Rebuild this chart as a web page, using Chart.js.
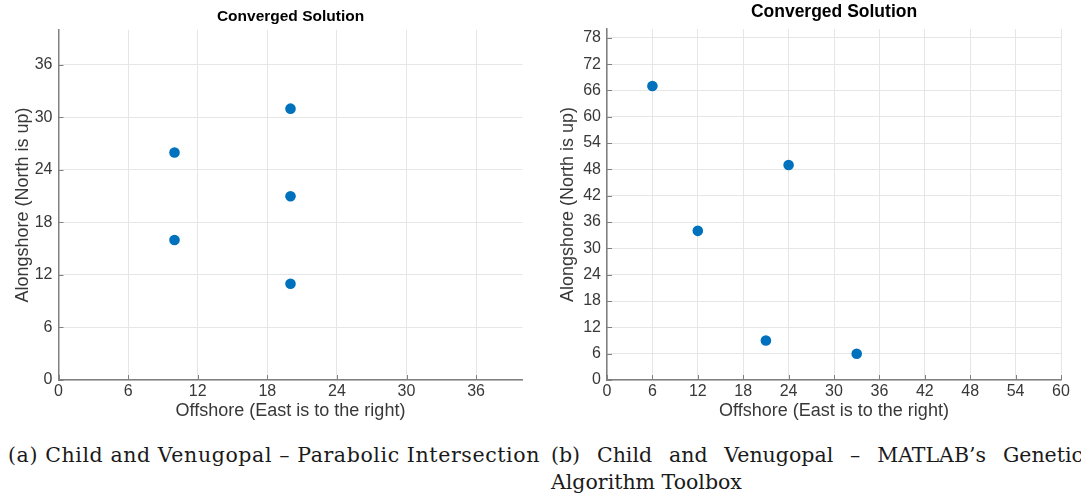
<!DOCTYPE html>
<html>
<head>
<meta charset="utf-8">
<script src="https://cdn.jsdelivr.net/npm/chart.js@4"></script>
<style>
  html, body { margin: 0; padding: 0; background: #fff; }
  #page { position: relative; width: 1081px; height: 500px; overflow: hidden; }
  .plot { position: absolute; top: 0; }
  #plotA { left: 0; width: 540px; height: 422px; }
  #plotB { left: 545px; width: 536px; height: 422px; }
  .caption {
    position: absolute; font-family: "DejaVu Serif", serif; font-size: 20.5px;
    color: #1a1a1a; white-space: nowrap; line-height: 27px;
  }
  #capA { left: 8px; top: 442px; }
  #capB { left: 551px; top: 442px; }
</style>
</head>
<body>
<div id="page">
  <div class="plot" id="plotA"><canvas id="chartA"></canvas></div>
  <div class="plot" id="plotB"><canvas id="chartB"></canvas></div>
  <div class="caption" id="capA"><span class="fit" data-w="532" data-mode="letter">(a) Child and Venugopal – Parabolic Intersection</span></div>
  <div class="caption" id="capB"><span class="fit" data-w="532" data-mode="word">(b) Child and Venugopal – MATLAB’s Genetic</span><br><span>Algorithm Toolbox</span></div>
</div>
<script>
// (a) parabolic intersection solution
const offshoreA = [10, 10, 20, 20, 20];
const alongshoreA = [26, 16, 31, 21, 11];
const xTicksA = [0, 6, 12, 18, 24, 30, 36];
const yTicksA = [0, 6, 12, 18, 24, 30, 36];

// (b) genetic algorithm solution
const offshoreB = [6, 12, 24, 21, 33];
const alongshoreB = [67, 34, 49, 9, 6];
const xTicksB = [0, 6, 12, 18, 24, 30, 36, 42, 48, 54, 60];
const yTicksB = [0, 6, 12, 18, 24, 30, 36, 42, 48, 54, 60, 66, 72, 78];

const FONT = "'Liberation Sans', Arial, sans-serif";
const AXIS = "#808080";
const GRID = "#e6e6e6";
const TEXT = "#383838";
const DOT = "#0072BD";

// stretch caption lines to their column width (justified look)
document.querySelectorAll(".fit").forEach((el) => {
  const extra = Number(el.dataset.w) - el.getBoundingClientRect().width;
  if (el.dataset.mode === "word") {
    const gaps = el.textContent.split(" ").length - 1;
    el.style.wordSpacing = extra / gaps + "px";
  } else {
    el.style.letterSpacing = extra / el.textContent.length + "px";
  }
});

// MATLAB-style ticks that point into the plot area
const inwardTicks = {
  id: "inwardTicks",
  afterDraw(chart) {
    const { ctx, chartArea: a, scales } = chart;
    ctx.save();
    ctx.strokeStyle = AXIS;
    ctx.lineWidth = 1;
    ctx.beginPath();
    scales.x.ticks.forEach((t) => {
      const px = Math.round(scales.x.getPixelForValue(t.value)) + 0.5;
      ctx.moveTo(px, a.bottom);
      ctx.lineTo(px, a.bottom - 5);
    });
    scales.y.ticks.forEach((t) => {
      const py = Math.round(scales.y.getPixelForValue(t.value)) + 0.5;
      ctx.moveTo(a.left, py);
      ctx.lineTo(a.left + 5, py);
    });
    ctx.stroke();
    ctx.restore();
  },
};

function makeChart(id, xs, ys, xTicks, yTicks, opts) {
  const points = xs.map((x, i) => ({ x, y: ys[i] }));
  return new Chart(document.getElementById(id), {
    type: "scatter",
    data: {
      datasets: [
        {
          data: points,
          backgroundColor: DOT,
          borderWidth: 0,
          pointRadius: 5.3,
          pointHoverRadius: 5.3,
        },
      ],
    },
    options: {
      responsive: true,
      maintainAspectRatio: false,
      animation: false,
      layout: { padding: { left: 12, right: opts.padRight, top: 0, bottom: 0 } },
      plugins: {
        legend: { display: false },
        tooltip: { enabled: false },
        title: {
          display: true,
          fullSize: false,
          text: "Converged Solution",
          color: "#000",
          font: { family: FONT, size: opts.titleSize, weight: "bold" },
          padding: opts.titlePad,
        },
      },
      scales: {
        x: {
          type: "linear",
          min: 0,
          max: opts.xMax,
          afterBuildTicks: (s) => { s.ticks = xTicks.map((value) => ({ value })); },
          afterFit: (s) => { s.height = 42; },
          ticks: { color: TEXT, font: { family: FONT, size: 16 }, padding: 2, maxRotation: 0, autoSkip: false },
          grid: { color: GRID, drawTicks: false },
          border: { color: AXIS, width: 1.5 },
          title: {
            display: true,
            text: "Offshore (East is to the right)",
            color: TEXT,
            font: { family: FONT, size: 18 },
            padding: 0,
          },
        },
        y: {
          type: "linear",
          min: 0,
          max: opts.yMax,
          afterBuildTicks: (s) => { s.ticks = yTicks.map((value) => ({ value })); },
          afterFit: (s) => { s.width = opts.yWidth; },
          ticks: { color: TEXT, font: { family: FONT, size: 16 }, padding: 6, autoSkip: false },
          grid: { color: GRID, drawTicks: false },
          border: { color: AXIS, width: 1.5 },
          title: {
            display: true,
            text: "Alongshore (North is up)",
            color: TEXT,
            font: { family: FONT, size: 18 },
            padding: 0,
          },
        },
      },
    },
    plugins: [inwardTicks],
  });
}

makeChart("chartA", offshoreA, alongshoreA, xTicksA, yTicksA, {
  xMax: 40, yMax: 40, yWidth: 46.5, padRight: 17.5,
  titleSize: 15.5, titlePad: { top: 7.5, bottom: 3.8 },
});

makeChart("chartB", offshoreB, alongshoreB, xTicksB, yTicksB, {
  xMax: 60, yMax: 80, yWidth: 50, padRight: 20,
  titleSize: 17.5, titlePad: { top: 2, bottom: 6 },
});
</script>
</body>
</html>
